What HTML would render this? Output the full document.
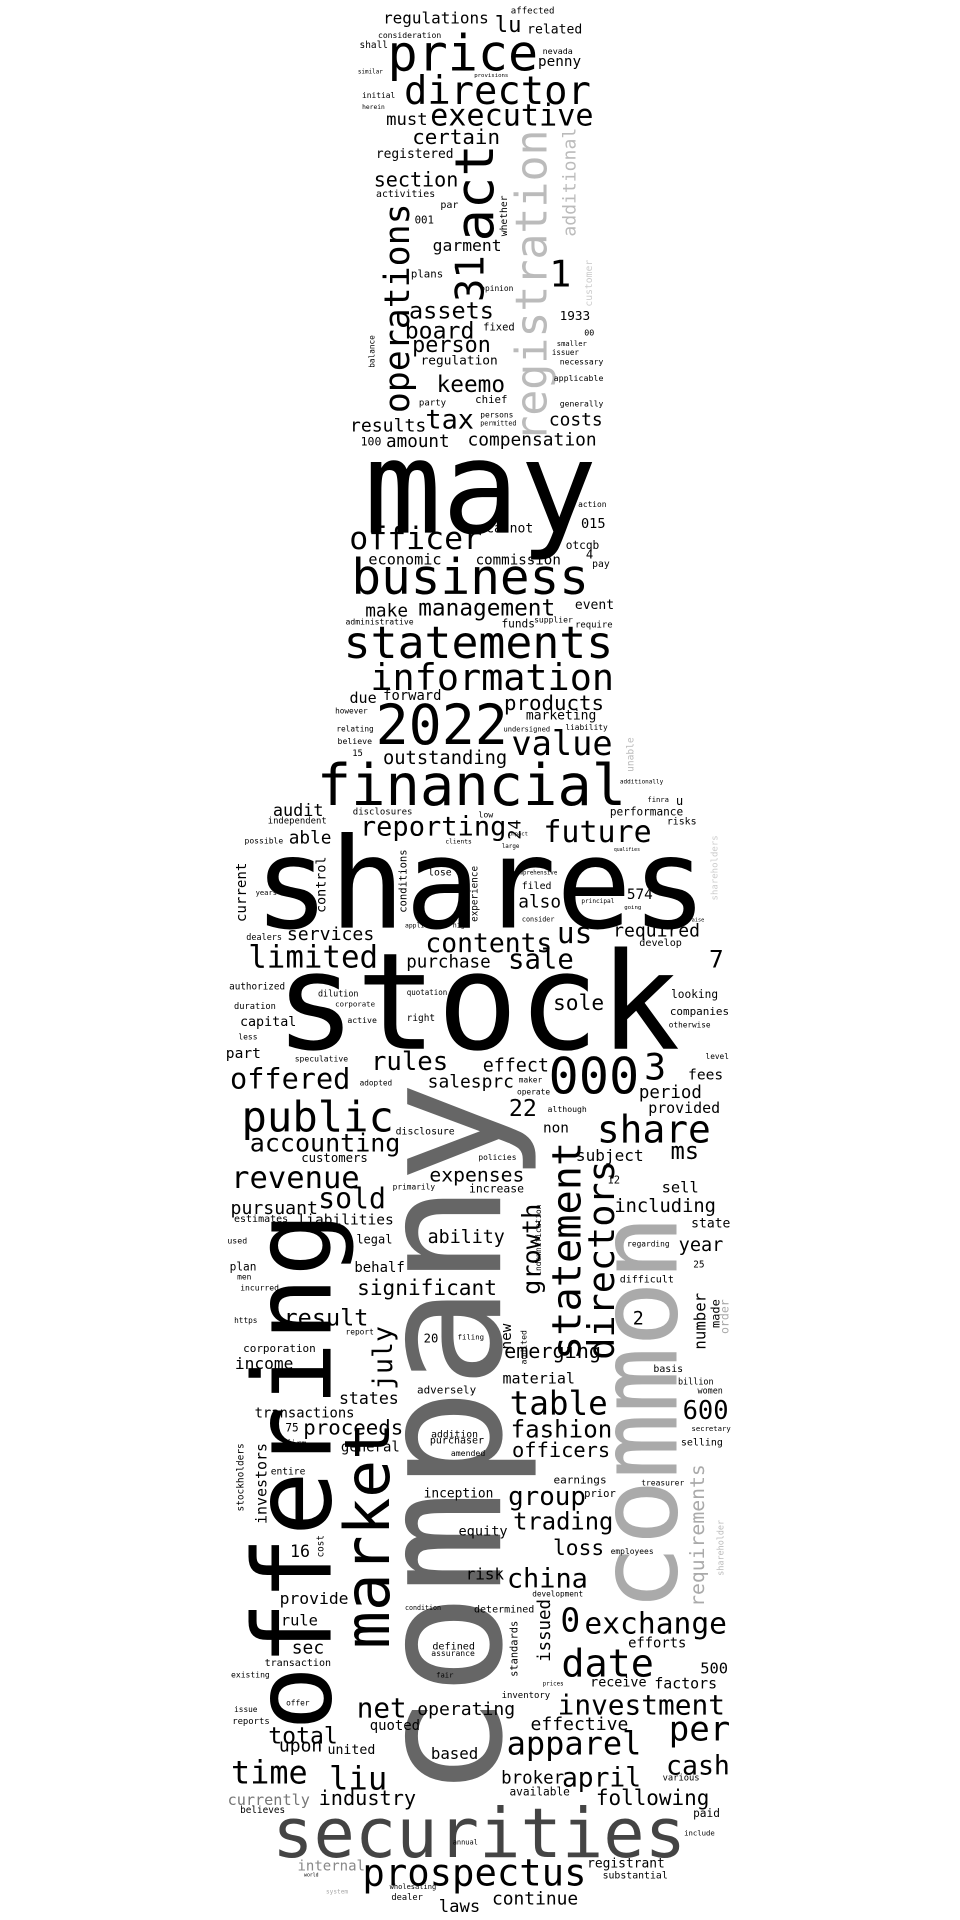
<!DOCTYPE html>
<html><head><meta charset="utf-8"><style>
html,body{margin:0;padding:0;background:#fff;width:960px;height:1920px;overflow:hidden}
svg{display:block}
text{font-family:"DejaVu Sans Mono","Liberation Mono",monospace}
</style></head><body>
<svg id="cloud" width="960" height="1920" viewBox="0 0 1568 3136" xmlns="http://www.w3.org/2000/svg"></svg>
<script>
// [text, x1, x2, baselineY, color] horizontal ; [text, baselineX, yBottom, yTop, color, 'v'] vertical
const topWords = [
["regulations",627,797,38],["lu",810,850,52],["affected",835,905,22],["related",862,950,55],
["consideration",618,720,62],["price",637,875,115],["nevada",887,935,88],["shall",588,633,78],
["penny",880,948,108],["similar",585,625,120],["provisions",775,830,126],["director",663,962,170],
["initial",592,645,160],["herein",592,628,178],["must",632,697,204],["executive",705,967,205],
["certain",675,815,235],["registered",615,740,258],["section",612,747,305],["activities",615,710,322],
["act",805,390,240,"#000","v"],["registration",893,718,215,"#bbb","v"],["additional",940,385,210,"#bbb","v"],
["operations",668,672,335,"#000","v"],["31",790,490,420,"#000","v"],["001",678,708,365],["par",720,748,340],
["whether",828,385,320,"#000","v"],["garment",708,818,410],["1",900,930,468],["plans",672,723,453],
["opinion",785,838,475],["customer",967,500,425,"#ccc","v"],["assets",670,805,520],["board",663,773,553],
["fixed",790,840,540],["1933",915,963,523],["person",675,800,575],["00",955,970,548],
["regulation",688,812,595],["smaller",910,958,565],["issuer",902,945,580],["necessary",915,985,595],
["applicable",905,985,622],["balance",612,600,548,"#000","v"],["keemo",715,823,640],["party",685,728,662],
["chief",777,828,658],["generally",915,985,664],["tax",697,772,700],["results",573,695,705],
["costs",898,983,695],["persons",785,838,682],["permitted",785,843,695],["100",590,622,728],
["amount",632,733,730],["compensation",765,973,728],["may",605,965,870],["015",950,988,862],
["action",945,990,828],["cannot",795,870,870],["officer",573,785,897],["otcqb",925,978,897],
["economic",603,720,922],["commission",778,915,922],["4",958,968,912],["pay",968,995,926],
["business",578,958,970],["management",685,905,1005],["make",598,665,1007],["event",940,1002,995],
["administrative",565,675,1020],["funds",820,873,1025],["supplier",873,935,1017],["require",940,1000,1025],
["statements",565,998,1075],["information",608,1000,1127],["due",572,614,1148],["forward",627,720,1143],
["products",825,985,1160],["2022",618,825,1215],["marketing",860,973,1175],["however",548,600,1165],
["relating",550,610,1195],["undersigned",823,898,1195],["liability",924,992,1192],["value",838,998,1233],
["believe",552,607,1215],["outstanding",627,827,1248],["15",576,592,1235],["unable",1035,1260,1205,"#bbb","v"],
["financial",522,1018,1315],["additionally",1013,1083,1280],["audit",447,527,1333],["disclosures",577,673,1330],
["finra",1058,1092,1310],["u",1105,1115,1315],["performance",997,1115,1332],["independent",438,533,1345],
["reporting",590,825,1365],["24",850,1370,1340,"#000","v"],["future",890,1062,1375],["risks",1090,1137,1347],
["able",473,540,1378],["possible",400,462,1378],["low",782,805,1335],["shares",425,1145,1515],
["current",402,1505,1410,"#000","v"],["control",532,1490,1400,"#000","v"],["conditions",664,1490,1388,"#000","v"],
["experience",780,1505,1415,"#000","v"],["shareholders",1172,1470,1365,"#ccc","v"],["lose",700,737,1430],
["filed",853,900,1452],["574",1025,1065,1468],["also",848,915,1482],["services",470,610,1535],
["contents",697,900,1555],["us",912,965,1540],["required",1003,1142,1530],["dealers",403,460,1535],
["develop",1045,1113,1545],["principal",950,1003,1475],["comprehensive",838,910,1428],["years",418,452,1462],
["application",662,730,1515],["high",740,765,1515],["consider",853,905,1505],["going",1020,1047,1485],
["raise",1125,1150,1505],["clients",728,770,1378],["large",820,848,1385],["impact",830,862,1365],
["qualifies",1003,1045,1390],["limited",408,615,1580],["purchase",665,800,1580],["sale",832,935,1582],["7",1160,1180,1580]
];
const bottomWords = [
["stock",460,1100,145],["authorized",375,465,48],["duration",383,450,80],["dilution",520,585,60],
["corporate",548,612,76],["capital",393,483,108],["active",568,615,103],["quotation",665,730,57],
["right",665,710,100],["sole",905,985,82],["looking",1097,1172,62],["companies",1095,1190,90],
["otherwise",1093,1160,110],["less",390,420,130],["part",370,425,160],["000",900,1040,218],["3",1055,1085,195],
["speculative",482,568,166],["rules",608,730,180],["effect",790,895,182],["fees",1125,1180,195],
["level",1153,1190,162],["offered",378,570,210],["salesprc",700,838,208],["adopted",588,640,205],
["maker",848,885,200],["operate",845,898,220],["period",1045,1145,225],["provided",1060,1175,250],
["public",398,640,280],["22",833,875,255],["although",895,958,248],["share",978,1158,298],["non",888,928,282],
["accounting",410,652,313],["disclosure",647,742,285],["ms",1097,1140,325],["subject",942,1050,328],
["customers",493,600,330],["policies",782,843,327],["revenue",380,585,372],["expenses",703,855,362],
["sell",1082,1140,380],["12",993,1012,365],["increase",767,855,380],["sold",522,628,405],["primarily",642,710,375],
["pursuant",378,518,415],["liabilities",487,642,432],["including",1005,1168,412],["estimates",383,470,428],
["state",1130,1192,437],["statement",948,650,300,"#000","v"],["directors",1003,650,330,"#000","v"],
["growth",882,545,400,"#000","v"],["indemnification",884,515,400,"#000","v"],["common",1105,1055,425,"#aaa","v"],
["ability",700,823,462],["legal",583,640,463],["used",372,403,463],["year",1110,1180,475],["regarding",1025,1093,468],
["behalf",580,660,510],["plan",376,418,507],["25",1133,1150,502],["significant",585,810,547],
["difficult",1013,1100,527],["incurred",393,455,540],["men",388,410,522],["result",465,600,597],
["number",1152,635,545,"#000","v"],["made",1175,600,555,"#000","v"],["order",1190,610,555,"#aaa","v"],
["july",640,700,600,"#000","v"],["market",635,1120,760,"#000","v"],["offering",540,1250,420,"#000","v"],
["company",817,1355,212,"#666","v"],
["2",1035,1050,595],["https",383,420,593],["report",565,610,612],["20",693,715,625],["filing",748,790,620],
["new",835,635,595,"#000","v"],["audited",860,660,605,"#000","v"],["corporation",398,515,640],["emerging",825,980,650],
["income",385,478,668],["material",822,938,692],["basis",1068,1115,673],["billion",1108,1165,693],
["adversely",682,777,708],["women",1140,1180,708],["states",555,650,725],["table",835,990,742],["600",1117,1188,750],
["transactions",417,578,747],["proceeds",497,657,775],["75",467,487,770],["fashion",836,998,780],
["secretary",1130,1193,769],["addition",705,780,780],["purchaser",703,790,790],["amended",737,792,810],
["general",558,652,803],["officers",838,995,812],["selling",1113,1180,793],["firm",467,500,795],
["stockholders",398,900,790,"#000","v"],["investors",435,920,790,"#000","v"],["entire",443,498,840],
["earnings",905,990,855],["treasurer",1048,1117,858],["requirements",1150,1055,825,"#aaa","v"],
["shareholder",1182,1005,915,"#bbb","v"],["inception",693,805,878],["group",832,955,890],["prior",955,1005,877],
["trading",840,1000,930],["equity",750,828,940],["16",475,505,975],["cost",528,975,940,"#000","v"],
["loss",905,985,972],["employees",998,1067,970],["risk",762,822,1012],["china",830,958,1025],
["provide",458,568,1052],["condition",662,720,1062],["development",870,952,1040],["determined",775,872,1066],
["0",918,945,1097],["exchange",957,1185,1100],["rule",460,518,1087],["issued",898,1145,1045,"#000","v"],
["standards",845,1170,1080,"#000","v"],["sec",478,528,1133],["efforts",1027,1120,1123],["date",920,1065,1170],
["transaction",433,540,1153],["defined",707,775,1126],["assurance",705,775,1137],["500",1145,1188,1165],
["existing",378,440,1172],["fair",713,740,1172],["receive",965,1055,1187],["factors",1070,1170,1190],
["prices",887,920,1185],["inventory",820,898,1205],["offer",468,505,1218],["net",585,662,1237],
["operating",683,840,1233],["investment",913,1182,1232],["reports",380,440,1248],["issue",383,420,1228],
["total",440,550,1280],["quoted",605,685,1258],["effective",868,1025,1258],["per",1095,1190,1275],
["apparel",830,1045,1298],["upon",457,525,1293],["united",536,612,1297],["based",705,780,1305],
["cash",1090,1190,1330],["time",380,500,1345],["liu",540,630,1355],["broker",820,920,1345],["april",920,1045,1350],
["various",1083,1142,1340],["currently",373,505,1380,"#777"],["industry",522,678,1380],["available",833,930,1365],
["following",975,1157,1380],["believes",393,465,1393],["paid",1133,1175,1400],["securities",450,1115,1465,"#444"],
["include",1118,1167,1430],["internal",487,595,1487,"#888"],["registrant",960,1085,1482],["substantial",985,1090,1500],
["prospectus",595,955,1512],["continue",805,943,1543],["laws",718,783,1555],["dealer",640,690,1535],
["wholesaling",637,712,1517],["annual",740,780,1445],["system",533,568,1525,"#aaa"],["world",497,520,1497]
];
const OFFSET = 1568;
const svg = document.getElementById('cloud');
const NS = 'http://www.w3.org/2000/svg';
function place(w, dy){
  const t = w[0], n = t.length, color = w[4] || '#000';
  const el = document.createElementNS(NS,'text');
  el.textContent = t;
  el.setAttribute('fill', color);
  if (w[5] === 'v'){
    const bx = w[1], yb = w[2] + dy, yt = w[3] + dy;
    const fs = (yb - yt) / (n*0.602 - 0.1);
    const y = yb + 0.05*fs;
    el.setAttribute('x', bx); el.setAttribute('y', y.toFixed(2));
    el.setAttribute('font-size', fs.toFixed(2));
    el.setAttribute('transform', 'rotate(-90 ' + bx + ' ' + y.toFixed(2) + ')');
  } else {
    const x1 = w[1], x2 = w[2];
    const fs = (x2 - x1) / (n*0.602 - 0.1);
    el.setAttribute('x', (x1 - 0.05*fs).toFixed(2));
    el.setAttribute('y', w[3] + dy);
    el.setAttribute('font-size', fs.toFixed(2));
  }
  
  
  svg.appendChild(el);
}
topWords.forEach(w => place(w, 0));
bottomWords.forEach(w => place(w, OFFSET));
</script>
</body></html>
